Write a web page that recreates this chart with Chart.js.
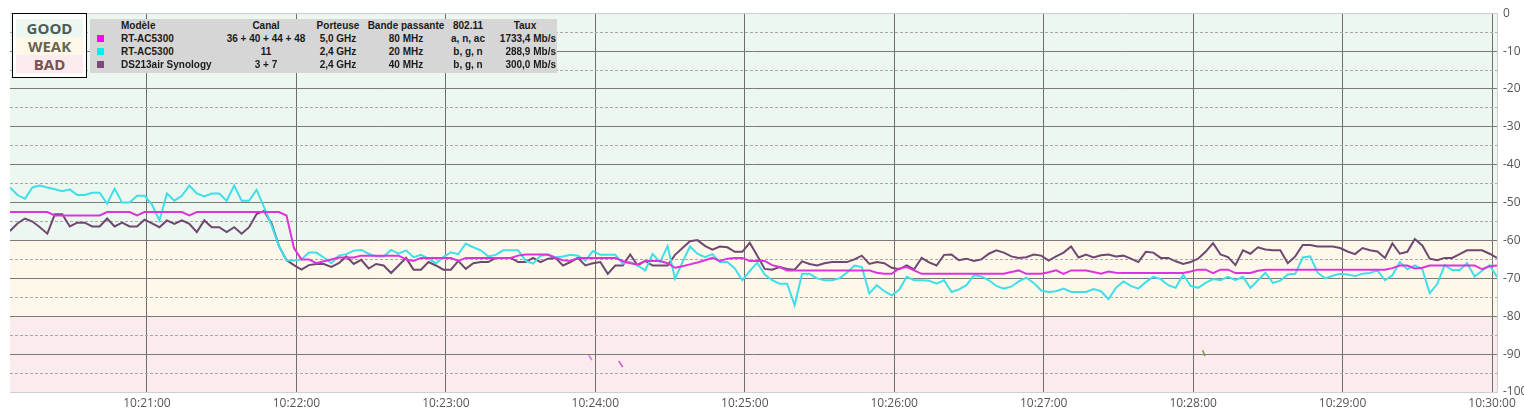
<!DOCTYPE html>
<html lang="fr">
<head>
<meta charset="UTF-8">
<title>Signal Wi-Fi</title>
<script src="https://cdn.jsdelivr.net/npm/chart.js"></script>
<style>
  body { margin: 0; background: #fff; }
  #wrap { position: relative; width: 1524px; height: 415px; }
  #zones {
    position: absolute; left: 12px; top: 13px; width: 67px; height: 54px;
    padding: 5px 3px 4px 3px; border: 1px solid #000; background: #fff;
    font: bold 15px "Open Sans", sans-serif; text-align: center;
  }
  #zones div { height: 18px; line-height: 18px; }
  #info {
    position: absolute; left: 90px; top: 19px; width: 467px; height: 54px;
    background: #d6d6d6; color: #1a1a1a;
    font: bold 10px "Liberation Sans", Arial, sans-serif;
  }
  #info span { position: absolute; line-height: 13px; white-space: nowrap; }
  #info i { position: absolute; width: 7px; height: 7px; }
</style>
</head>
<body>
<div id="wrap">
  <canvas id="chart" width="1524" height="415"></canvas>
  <div id="zones"></div>
  <div id="info"></div>
</div>

<script>
// temps en secondes apres 10:20:00, un releve toutes les 3 s
const START_S = 5;
const STEP_S = 3;

// RT-AC5300 5 GHz (dBm)
const magentaValues = [
  -52.5, -52.5, -52.5, -52.5, -52.5, -52.5, -53.4, -53.4, -53.4, -53.4, -53.4, -53.4, -53.4, -52.5, -52.5, -52.5, -52.5, -53.4, -52.5,
  -52.5, -52.5, -52.5, -52.5, -52.5, -53.4, -52.5, -52.5, -52.5, -52.5, -52.5, -52.5, -52.5, -52.5, -52.5, -52.5, -52.5, -52.5, -53.4, -62,
  -65, -65, -66, -65.5, -65, -64.5, -64.5, -64.5, -64, -64, -64, -64, -64, -64, -65, -65.4, -64.6, -64.6, -64.6, -64.6,
  -64.6, -65.4, -64.6, -64.6, -64.6, -64.6, -64.6, -64.6, -64.6, -64, -63.7, -63.7, -63.7, -63.7, -64.6, -65.2, -65.4, -64.6, -64.6, -64.6,
  -64.6, -64.6, -64.6, -65.4, -66, -66.3, -65.4, -65.4, -65.4, -66, -67.2, -66.8, -66.3, -65.8, -65.2, -64.6, -65.4, -64.8, -64.6, -64.6,
  -65.4, -65.4, -65.4, -66.5, -67, -67.9, -67.9, -67.9, -67.9, -67.9, -67.9, -67.9, -67.9, -67.9, -67.9, -67.9, -67.9, -68.5, -68.8, -68.8,
  -67.4, -67, -67.9, -68.8, -68.8, -68.8, -68.8, -68.8, -68.8, -68.8, -68.8, -68.8, -68.8, -68.8, -68.8, -68.3, -67.9, -68.8, -68.8, -68.8,
  -68.4, -67.9, -68.8, -67.9, -67.9, -67.9, -68.3, -68.8, -68.2, -68.5, -68.6, -68.6, -68.6, -68.6, -68.6, -68.6, -68.6, -68.6, -68.6, -68.2,
  -67.7, -67.7, -68.6, -67.7, -67.7, -68.6, -68.6, -68.6, -68, -67.7, -67.7, -67.7, -67.7, -67.7, -67.7, -67.7, -67.7, -67.7, -67.7, -67.7,
  -67.7, -67.7, -67.7, -67.7, -67.7, -67.7, -67.3, -66.6, -66.6, -67.4, -67.2, -66.6, -66.6, -66.6, -66.6, -66.6, -66.6, -66.6, -67.6, -66.8, -66.6
];

// RT-AC5300 2,4 GHz (dBm)
const cyanValues = [
  -46, -48, -49, -46, -45.5, -46, -46.5, -47, -46.5, -48, -48, -47.4, -47.4, -50.3, -46.3, -50, -50, -48.2, -48.2,
  -50.5, -54.7, -47.6, -49.5, -48.2, -45.5, -47.6, -48.4, -47.6, -47.6, -49.5, -45.5, -49.5, -49.5, -46.6, -51.2, -56, -61.5, -65.3, -65.3,
  -65, -63.2, -63.2, -64.5, -66, -64, -63.6, -62.7, -62.5, -63.5, -64.2, -64.2, -62.5, -63.5, -62.6, -64.4, -63.8, -64.8, -66, -64.4,
  -63.1, -63.6, -60.8, -61.8, -62.6, -64.2, -63.8, -62.6, -62.6, -62.6, -65.3, -66.1, -64, -63.8, -64.4, -64.2, -63.8, -64, -65.3, -62.8,
  -63.8, -63.8, -63.8, -66.1, -65.7, -66.6, -67.9, -63.6, -65.7, -61.5, -70.1, -65.7, -61.6, -63.5, -64.4, -63.6, -65.7, -65.7, -67.4, -70.5,
  -68, -65.9, -69, -70.5, -71.4, -71.4, -77.1, -68.8, -68.8, -70, -70.5, -70.5, -70, -68.5, -66.6, -67, -74, -71.8, -73.4, -74.5,
  -73, -69.6, -70.5, -70.5, -70.6, -71.4, -70.5, -73.6, -72.9, -71.8, -69.2, -69.5, -70.5, -72, -72.7, -72.2, -70.8, -69.8, -71.2, -73.2,
  -73.6, -73.4, -72.7, -73.6, -73.6, -73.6, -72.8, -73.4, -75.5, -72.5, -70.8, -72, -72.7, -71, -69.6, -70.2, -71.8, -72.5, -69, -72,
  -72.5, -71.2, -70.2, -70.5, -69.6, -70.5, -69.6, -72.5, -70.5, -68.5, -71.2, -70.6, -69, -68.8, -64.5, -64.2, -68.5, -70, -69.3, -68.8,
  -69, -69.4, -68.8, -68.6, -67.9, -70.5, -69.2, -65.7, -67.6, -66.6, -67.6, -73.9, -71.5, -66.5, -67.8, -67.8, -66, -69.5, -68, -66.5, -69.6
];

// DS213air Synology (dBm)
const purpleValues = [
  -57.5, -55.5, -54.2, -55, -56.5, -58.2, -53.1, -53.1, -56.3, -55.3, -55.3, -56.3, -56.3, -54.2, -56.3, -55.3, -56.3, -56.3, -54.5,
  -55.5, -56.5, -54.7, -55.6, -54.7, -55.6, -57.8, -54.7, -56.5, -56.5, -57.8, -56.5, -58.2, -56.5, -53, -52.2, -55.5, -61.5, -65.2, -66.5,
  -67.7, -66.5, -66.2, -66.2, -67, -66, -64.2, -66.2, -65.1, -67.4, -66.2, -66.6, -68.6, -66.6, -64.6, -67.7, -67.7, -65.7, -66.6, -67.7,
  -67.7, -65.4, -67.5, -66, -65.7, -65.7, -64.6, -64.6, -64.6, -65.7, -65.7, -64.6, -65.7, -64.8, -64.6, -66.6, -65.7, -64.6, -66.6, -66,
  -65.7, -68.8, -66.6, -66.6, -63.7, -66.6, -65.4, -66.6, -66.6, -66.6, -63.8, -62, -60.2, -59.9, -61.4, -62.4, -61.6, -61.8, -63, -63,
  -60.6, -64, -67.5, -67.7, -67, -67.5, -67.7, -65.5, -66.2, -66.6, -66, -65.7, -65.7, -65.7, -65, -64, -66.2, -65.7, -66, -67.2,
  -67.6, -66.6, -67.6, -64.6, -65.8, -66.6, -63.8, -63.7, -65.2, -64.8, -65.4, -65, -63.5, -62.6, -63.2, -64.2, -64.6, -64.4, -63.7, -64,
  -65.3, -64.2, -63.2, -61.6, -64.5, -63.7, -64.5, -63.9, -63.7, -64.2, -64, -64.8, -65.7, -63, -63.2, -64.6, -64.6, -65.5, -66.2, -65.7,
  -64.8, -63, -60.7, -63.7, -64.4, -66.5, -62.6, -63.5, -61.8, -62.4, -62.6, -62.6, -66, -64.2, -61.2, -61.2, -61.6, -61.6, -61.6, -62,
  -62.9, -63.6, -62, -62.6, -62.9, -64.6, -60.8, -63.5, -63, -59.6, -61.3, -64.8, -65.2, -64.6, -64.6, -63.6, -62.6, -62.6, -62.6, -63.5, -64.6
];

// reseaux voisins apercus une seconde
const strayTimes = [[237.4, 238.6], [249.4, 251], [483.8, 484.8]];
const strayValues = [[-90.3, -91.6], [-91.8, -93.4], [-89, -90.5]];
const strayColors = ['#c77ee0', '#c85bd0', '#6fa043'];

// axe du temps
const tickSeconds = [60, 120, 180, 240, 300, 360, 420, 480, 540, 600];
const tickLabels = ['10:21:00', '10:22:00', '10:23:00', '10:24:00', '10:25:00',
                    '10:26:00', '10:27:00', '10:28:00', '10:29:00', '10:30:00'];

// zones de qualite
const zoneNames = ['GOOD', 'WEAK', 'BAD'];
const zoneLimits = [0, -60, -80, -100];
const zoneFill = ['#ecf7f0', '#fdf8ea', '#fcebec'];
const zoneText = ['#4f5c56', '#6a6452', '#775252'];

// tableau des reseaux
const infoHeaders = ['Modèle', 'Canal', 'Porteuse', 'Bande passante', '802.11', 'Taux'];
const models = ['RT-AC5300', 'RT-AC5300', 'DS213air Synology'];
const channels = ['36 + 40 + 44 + 48', '11', '3 + 7'];
const carriers = ['5,0 GHz', '2,4 GHz', '2,4 GHz'];
const bandwidths = ['80 MHz', '20 MHz', '40 MHz'];
const standards = ['a, n, ac', 'b, g, n', 'b, g, n'];
const rates = ['1733,4 Mb/s', '288,9 Mb/s', '300,0 Mb/s'];
const swatchColors = ['#ff00ff', '#00f0f0', '#7b4a7b'];
const lineColors = ['#dd33dd', '#3fdfea', '#6f4872'];

// --- legende des zones ---
const zonesBox = document.getElementById('zones');
zoneNames.forEach((name, i) => {
  const d = document.createElement('div');
  d.textContent = name;
  d.style.background = zoneFill[i];
  d.style.color = zoneText[i];
  zonesBox.appendChild(d);
});

// --- tableau ---
const info = document.getElementById('info');
function cell(text, row, x, align) {
  const s = document.createElement('span');
  s.textContent = text;
  s.style.top = (row * 13) + 'px';
  if (align === 'left') s.style.left = x + 'px';
  else if (align === 'right') s.style.right = x + 'px';
  else { s.style.left = x + 'px'; s.style.transform = 'translateX(-50%)'; }
  info.appendChild(s);
}
const colX = [31, 176, 248, 316, 378];
const colAlign = ['left', 'center', 'center', 'center', 'center'];
infoHeaders.slice(0, 5).forEach((h, c) => cell(h, 0, colX[c], colAlign[c]));
cell(infoHeaders[5], 0, 435, 'center');
models.forEach((m, r) => {
  const row = [m, channels[r], carriers[r], bandwidths[r], standards[r]];
  row.forEach((t, c) => cell(t, r + 1, colX[c], colAlign[c]));
  cell(rates[r], r + 1, 1, 'right');
  const sw = document.createElement('i');
  sw.style.left = '7px';
  sw.style.top = (r * 13 + 16) + 'px';
  sw.style.background = swatchColors[r];
  info.appendChild(sw);
});

// --- graphique ---
const toPoints = vals => vals.map((v, i) => ({ x: START_S + i * STEP_S, y: v }));

const zonesPlugin = {
  id: 'zones',
  beforeDraw(chart) {
    const { ctx, chartArea: a, scales: { y } } = chart;
    for (let i = 0; i < zoneFill.length; i++) {
      const top = y.getPixelForValue(zoneLimits[i]);
      const bottom = y.getPixelForValue(zoneLimits[i + 1]);
      ctx.fillStyle = zoneFill[i];
      ctx.fillRect(a.left, top, a.right - a.left, bottom - top);
    }
  }
};

const mainSets = [magentaValues, cyanValues, purpleValues].map((vals, i) => ({
  label: models[i],
  data: toPoints(vals),
  borderColor: lineColors[i],
  borderWidth: 2
}));
const straySets = strayTimes.map((ts, i) => ({
  label: 'autre',
  data: ts.map((t, k) => ({ x: t, y: strayValues[i][k] })),
  borderColor: strayColors[i],
  borderWidth: 1.5
}));

const tickFont = { family: 'Open Sans', size: 12 };

new Chart(document.getElementById('chart'), {
  type: 'line',
  data: { datasets: mainSets.concat(straySets) },
  options: {
    responsive: false,
    animation: false,
    events: [],
    layout: { padding: { left: 10, top: 12, right: 0, bottom: 0 } },
    elements: { point: { radius: 0 }, line: { tension: 0 } },
    plugins: { legend: { display: false }, tooltip: { enabled: false } },
    scales: {
      x: {
        type: 'linear',
        min: 5,
        max: 602,
        afterBuildTicks: s => { s.ticks = tickSeconds.map(v => ({ value: v })); },
        afterFit: s => { s.height = 23; },
        ticks: {
          autoSkip: false, maxRotation: 0, padding: 4, color: '#555', font: tickFont,
          callback: v => tickLabels[tickSeconds.indexOf(v)]
        },
        grid: { drawTicks: false, color: '#6e6e6e' },
        border: { color: '#cfcfcf' }
      },
      y: {
        position: 'right',
        min: -100,
        max: 0,
        afterFit: s => { s.width = 27; },
        ticks: {
          stepSize: 5, autoSkip: false, padding: 6, color: '#555', font: tickFont,
          callback: v => (v % 10 === 0 ? v : '')
        },
        grid: {
          drawTicks: false,
          color: c => {
            const v = c.tick ? c.tick.value : 0;
            if (v === 0 || v === -100) return '#cfcfcf';
            return v % 10 === 0 ? '#7a7a7a' : '#a8a8a8';
          }
        },
        border: {
          color: '#cfcfcf',
          dash: c => (c.tick && c.tick.value % 10 !== 0 ? [3, 2] : [])
        }
      }
    }
  },
  plugins: [zonesPlugin]
});
</script>
</body>
</html>
